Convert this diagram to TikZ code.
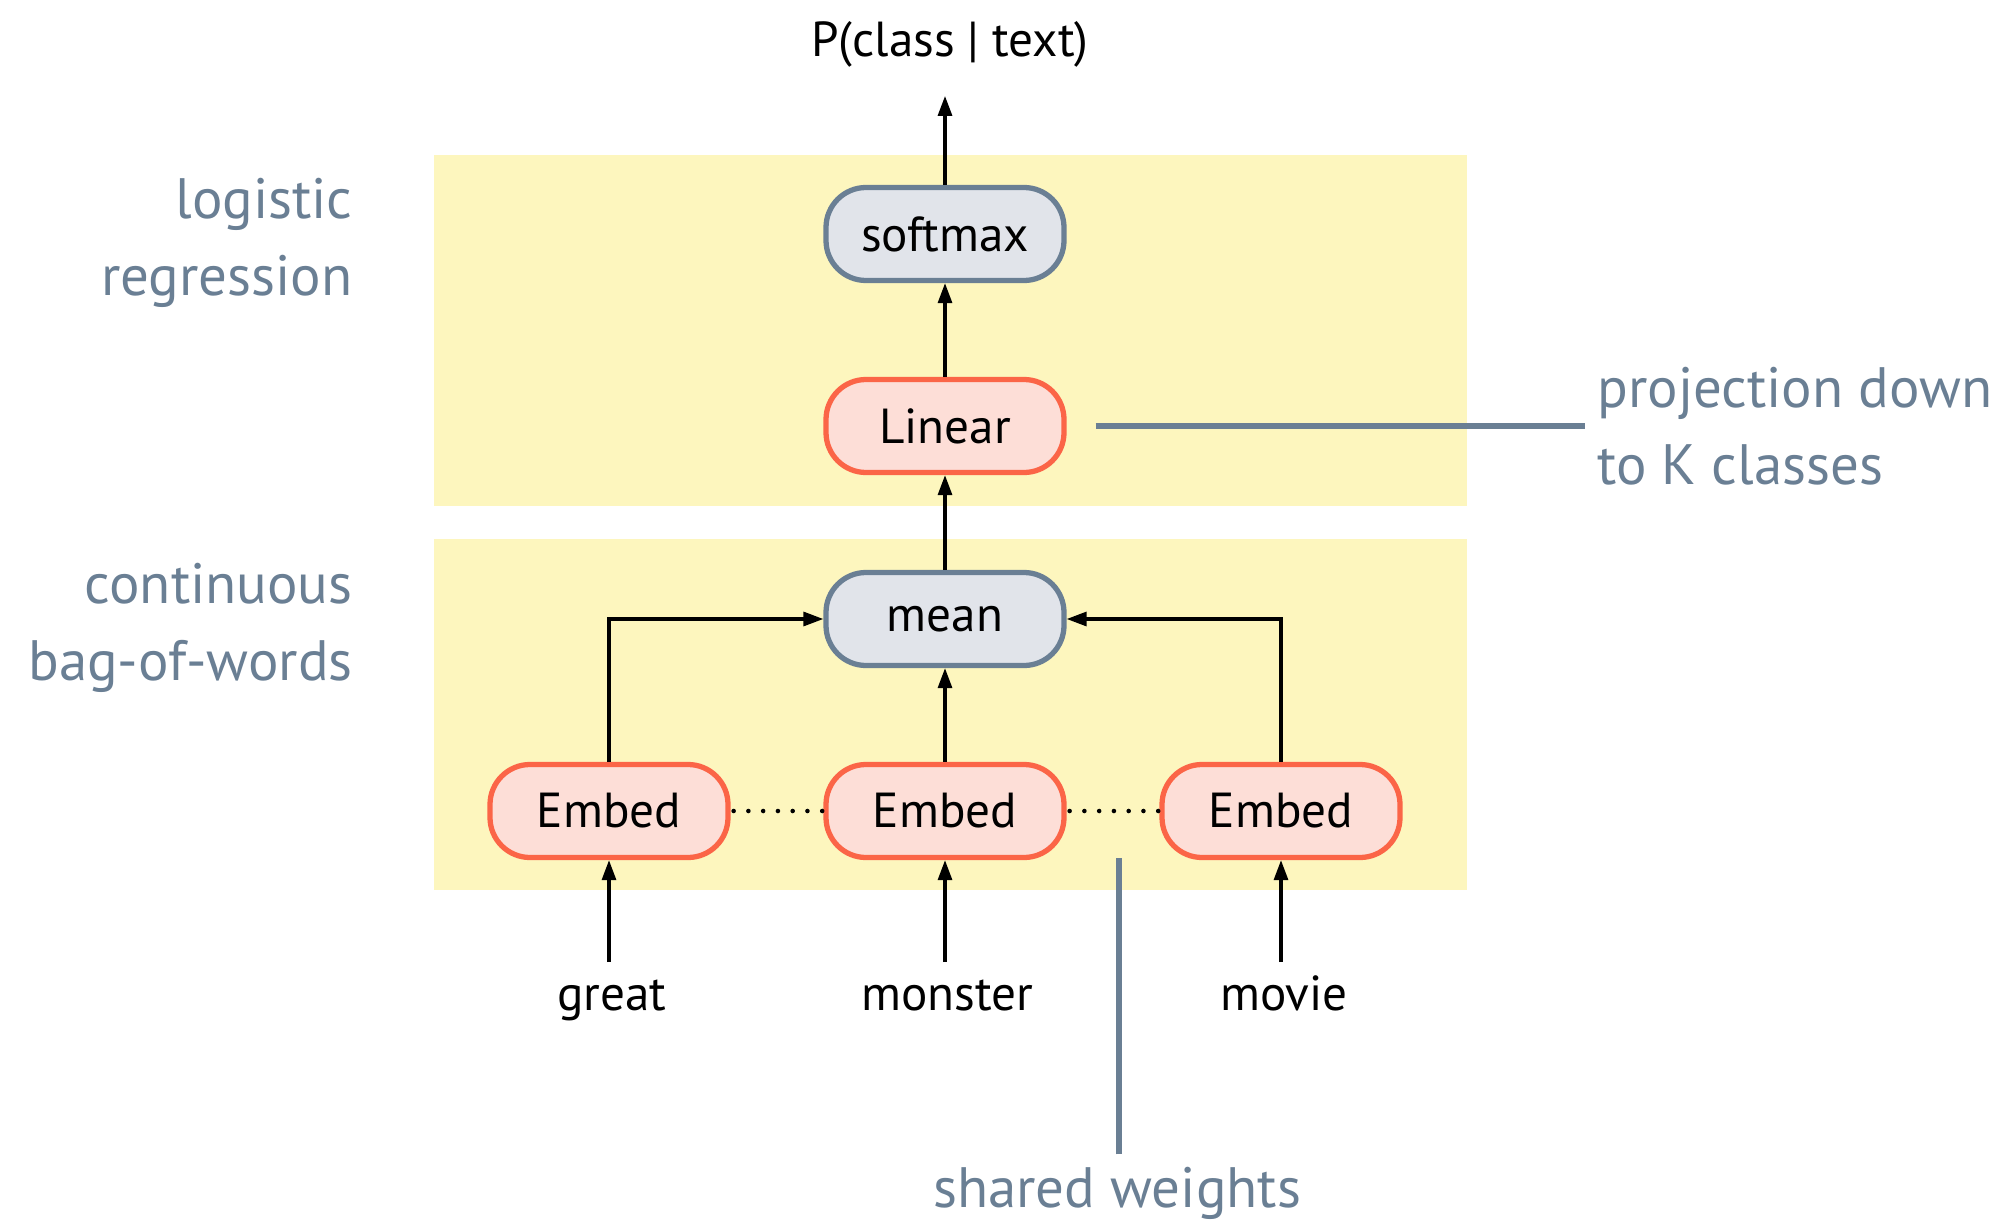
\documentclass[tikz,border=0pt]{standalone}
\usepackage{fontspec}
\setmainfont{PT Sans}
\usepackage{tikz}
\usetikzlibrary{arrows.meta,positioning}
\definecolor{bandyellow}{HTML}{FDF6BE}
\definecolor{slate}{HTML}{6A7F94}
\definecolor{opfill}{HTML}{E1E4EA}
\definecolor{embred}{HTML}{FB6547}
\definecolor{embfill}{HTML}{FDDED7}

\begin{document}
\begin{tikzpicture}[x=0.1mm,y=-0.1mm,
  box/.style={rounded corners=4mm,line width=1.5pt,
              minimum width=23.8mm,minimum height=9.3mm,
              font=\fontsize{14}{16}\selectfont},
  op/.style={box,draw=slate,fill=opfill},
  emb/.style={box,draw=embred,fill=embfill},
  word/.style={font=\fontsize{14}{16}\selectfont,text height=3.6mm,text depth=1.1mm},
  side/.style={anchor=east,align=right,text=slate,
               font=\fontsize{16.2}{21.8}\selectfont},
  arr/.style={-{Triangle[length=2mm,width=1.4mm]},line width=0.9pt},
  tie/.style={line width=1.3pt,line cap=round,dash pattern=on 0pt off 4.2pt},
  callout/.style={draw=slate,line width=1.5pt}
]
  \useasboundingbox (0,0) rectangle (2013,1223);

  % the two shaded stages
  \fill[bandyellow] (434,155) rectangle (1467,506);
  \fill[bandyellow] (434,539) rectangle (1467,890);

  \node[side] (lr)   at (365,243) {logistic\\regression};
  \node[side] (cbow) at (365,628) {continuous\\bag-of-words};

  \node[op]  (soft) at (945,234) {softmax};
  \node[emb] (lin)  at (945,426) {Linear};
  \node[op]  (mean) at (945,619) {mean};

  \node[emb] (e1) at (609,811)  {Embed};
  \node[emb] (e2) at (945,811)  {Embed};
  \node[emb] (e3) at (1281,811) {Embed};

  \node[word] (w1)  at (612,998)  {great};
  \node[word] (w2)  at (947,998)  {monster};
  \node[word] (w3)  at (1284,998) {movie};
  \node[word] (out) at (950,44)    {P(class | text)};

  % data flow
  \draw[arr] (e1.south |- w1.north) -- (e1);
  \draw[arr] (e2.south |- w2.north) -- (e2);
  \draw[arr] (e3.south |- w3.north) -- (e3);
  \draw[arr] (e1.north) |- (mean.west);
  \draw[arr] (e3.north) |- (mean.east);
  \draw[arr] (e2) -- (mean);
  \draw[arr] (mean) -- (lin);
  \draw[arr] (lin) -- (soft);
  \draw[arr,shorten >=1.6mm] (soft.north) -- (soft.north |- out.south);

  % weight tying
  \draw[tie] ([xshift=0.3mm]e1.east) -- (e2.west);
  \draw[tie] ([xshift=0.3mm]e2.east) -- (e3.west);

  % annotations
  \node[side,anchor=west,align=left] (proj) at (1585,426)
    {projection down\\to K classes};
  \node[side,anchor=center] (shared) at (1117,1193) {shared weights};
  \coordinate (tiept) at (1119,858);
  \draw[callout] ([xshift=2.9mm]lin.east) -- (proj.west);
  \draw[callout] (shared.north -| tiept) -- (tiept);
\end{tikzpicture}
\end{document}
